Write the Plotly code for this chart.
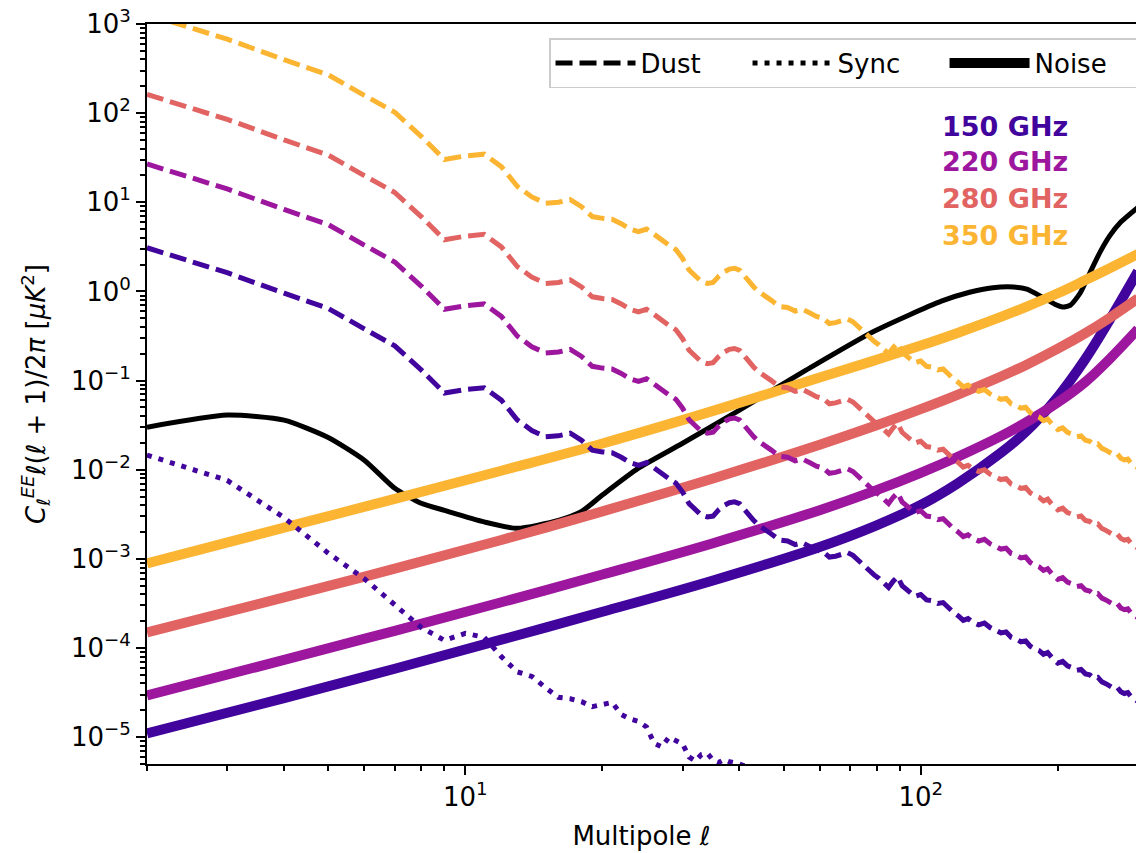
import numpy as np
import plotly.graph_objects as go

FONT = "DejaVu Sans"

# ---------------- data ----------------
bands = ["150 GHz", "220 GHz", "280 GHz", "350 GHz"]
band_colors = ["#41049d", "#9c179e", "#e16462", "#fbb532"]
label_y = [0.861, 0.814, 0.764, 0.714]

# instrumental noise curves (thick solid)
noise_ell = [2, 4, 7, 12, 20, 35, 60, 80, 100, 120, 150, 170, 200, 230, 260, 300]
noise_150 = [1.1e-5, 2.74e-5, 5.86e-5, 1.24e-4, 2.55e-4, 5.73e-4, 1.36e-3, 2.38e-3,
             4.02e-3, 6.93e-3, 0.0155, 0.0265, 0.0658, 0.175, 0.479, 1.68]
noise_220 = [2.94e-5, 7.35e-5, 1.56e-4, 3.26e-4, 6.67e-4, 1.50e-3, 3.52e-3, 5.90e-3,
             9.23e-3, 0.0138, 0.0238, 0.0338, 0.0569, 0.0968, 0.175, 0.378]
noise_280 = [1.5e-4, 3.69e-4, 7.76e-4, 1.63e-3, 3.41e-3, 7.98e-3, 0.0191, 0.0315,
             0.0478, 0.0687, 0.111, 0.149, 0.228, 0.341, 0.506, 0.834]
noise_350 = [8.9e-4, 2.24e-3, 4.71e-3, 9.75e-3, 0.0197, 0.0457, 0.108, 0.171,
             0.247, 0.340, 0.518, 0.667, 0.953, 1.34, 1.82, 2.64]

# CMB EE (thin black)
cmb_ell = [2, 3, 4, 5, 6, 7, 8, 9, 11, 13, 16, 18, 20, 24, 30, 40, 56, 79, 111,
           128, 144, 160, 171, 186, 197, 205, 213, 224, 235, 248, 260, 275, 300]
cmb_ee = [0.030, 0.041, 0.036, 0.023, 0.0128, 0.0062, 0.0042, 0.0035, 0.0026, 0.0022,
          0.0027, 0.0034, 0.0052, 0.0104, 0.0198, 0.0466, 0.131, 0.358, 0.778,
          0.98, 1.10, 1.12, 1.06, 0.85, 0.72, 0.67, 0.70, 0.96, 1.6, 2.8, 4.2, 6.0, 8.8]

# synchrotron at 150 GHz (dotted)
sync_ell = [2, 3, 4, 5, 6, 7, 8, 9, 10, 11, 12, 13, 14, 15, 16, 17, 18, 19, 20, 21, 22,
            23, 24, 25, 26, 27, 28, 29, 30, 31, 32, 33, 34, 35, 36, 37, 38, 40, 42, 45, 50]
sync_150 = [0.0146, 7.6e-3, 2.9e-3, 1.16e-3, 6.0e-4, 3.0e-4, 1.7e-4, 1.22e-4, 1.46e-4,
            1.32e-4, 8.0e-5, 5.4e-5, 4.8e-5, 3.6e-5, 2.8e-5, 2.7e-5, 2.5e-5, 2.2e-5,
            2.3e-5, 2.45e-5, 1.8e-5, 1.6e-5, 1.5e-5, 1.3e-5, 8.5e-6, 7.8e-6, 1.0e-5,
            9.0e-6, 8.4e-6, 6.0e-6, 5.4e-6, 6.4e-6, 6.6e-6, 5.5e-6, 5.2e-6, 5.6e-6,
            5.3e-6, 5.0e-6, 4.6e-6, 4.0e-6, 3.0e-6]

# dust (dashed), stored as log10 of D_ell [uK^2]
dust_ell = [2, 3, 4, 5, 6, 7, 8, 9, 10, 11, 12, 13, 14, 15, 16, 17, 18, 19, 20, 21, 22,
            23, 24, 25, 26, 27, 28, 29, 30, 31, 32, 33, 34, 35, 36, 37, 38, 39, 40, 41,
            42, 43, 44, 45,
            47, 49, 51, 53, 55, 57, 59, 61, 63, 65, 67, 69, 71, 73, 75, 77, 79, 81, 83,
            85, 87, 89, 91, 94, 97,
            100, 103, 106, 109, 112, 115, 118, 121, 124, 127, 130, 134, 138, 142, 146,
            150, 154, 158, 162, 166, 170, 174, 178, 182, 186, 190, 195, 200, 205, 210,
            215, 220, 225, 230, 235, 240, 245, 250, 255, 260, 265, 270, 275, 280, 285,
            290, 295, 300]
dust_log_150 = [0.49, 0.21, -0.02, -0.19, -0.42, -0.61, -0.88, -1.14, -1.10, -1.08, -1.22,
                -1.44, -1.56, -1.63, -1.62, -1.59, -1.67, -1.78, -1.80, -1.81, -1.86, -1.92,
                -1.95, -1.92, -1.98, -2.05, -2.10, -2.15, -2.25, -2.38, -2.45, -2.51, -2.53,
                -2.52, -2.45, -2.40, -2.37, -2.36, -2.38, -2.45, -2.52, -2.57, -2.62, -2.66,
                -2.72, -2.79, -2.80, -2.84, -2.82, -2.86, -2.90, -2.92, -2.98, -2.97, -2.95,
                -2.93, -2.96, -3.02, -3.07, -3.13, -3.18, -3.22, -3.27, -3.32, -3.25, -3.20,
                -3.30, -3.36, -3.42,
                -3.40, -3.46, -3.47, -3.50, -3.49, -3.55, -3.60, -3.64, -3.69, -3.67, -3.71,
                -3.74, -3.72, -3.77, -3.80, -3.83, -3.82, -3.88, -3.90, -3.93, -3.92, -3.98,
                -4.01, -4.03, -4.07, -4.05, -4.12, -4.17, -4.15, -4.20, -4.22, -4.25, -4.24,
                -4.29, -4.30, -4.34, -4.33, -4.38, -4.40, -4.42, -4.45, -4.44, -4.49, -4.51,
                -4.50, -4.55, -4.57, -4.60]
dust_log_220 = [1.43, 1.15, 0.92, 0.75, 0.52, 0.33, 0.06, -0.20, -0.16, -0.14, -0.28,
                -0.50, -0.62, -0.69, -0.68, -0.65, -0.73, -0.84, -0.86, -0.87, -0.92, -0.98,
                -1.01, -0.98, -1.04, -1.11, -1.16, -1.21, -1.31, -1.44, -1.51, -1.57, -1.59,
                -1.58, -1.51, -1.46, -1.43, -1.42, -1.44, -1.51, -1.58, -1.63, -1.68, -1.72,
                -1.78, -1.85, -1.86, -1.90, -1.88, -1.92, -1.96, -1.98, -2.04, -2.03, -2.01,
                -1.99, -2.02, -2.08, -2.13, -2.19, -2.24, -2.28, -2.33, -2.38, -2.31, -2.26,
                -2.36, -2.42, -2.48,
                -2.46, -2.52, -2.53, -2.56, -2.55, -2.61, -2.66, -2.70, -2.75, -2.73, -2.77,
                -2.80, -2.78, -2.83, -2.86, -2.89, -2.88, -2.94, -2.96, -2.99, -2.98, -3.04,
                -3.07, -3.09, -3.13, -3.11, -3.18, -3.23, -3.21, -3.26, -3.28, -3.31, -3.30,
                -3.35, -3.36, -3.40, -3.39, -3.44, -3.46, -3.48, -3.51, -3.50, -3.55, -3.57,
                -3.56, -3.61, -3.63, -3.66]
dust_log_280 = [2.21, 1.93, 1.70, 1.53, 1.30, 1.11, 0.84, 0.58, 0.62, 0.64, 0.50,
                0.28, 0.16, 0.09, 0.10, 0.13, 0.05, -0.06, -0.08, -0.09, -0.14, -0.20,
                -0.23, -0.20, -0.26, -0.33, -0.38, -0.43, -0.53, -0.66, -0.73, -0.79, -0.81,
                -0.80, -0.73, -0.68, -0.65, -0.64, -0.66, -0.73, -0.80, -0.85, -0.90, -0.94,
                -1.00, -1.07, -1.08, -1.12, -1.10, -1.14, -1.18, -1.20, -1.26, -1.25, -1.23,
                -1.21, -1.24, -1.30, -1.35, -1.41, -1.46, -1.50, -1.55, -1.60, -1.53, -1.48,
                -1.58, -1.64, -1.70,
                -1.68, -1.74, -1.75, -1.78, -1.77, -1.83, -1.88, -1.92, -1.97, -1.95, -1.99,
                -2.02, -2.00, -2.05, -2.08, -2.11, -2.10, -2.16, -2.18, -2.21, -2.20, -2.26,
                -2.29, -2.31, -2.35, -2.33, -2.40, -2.45, -2.43, -2.48, -2.50, -2.53, -2.52,
                -2.57, -2.58, -2.62, -2.61, -2.66, -2.68, -2.70, -2.73, -2.72, -2.77, -2.79,
                -2.78, -2.83, -2.85, -2.88]
dust_log_350 = [3.11, 2.83, 2.60, 2.43, 2.20, 2.01, 1.74, 1.48, 1.52, 1.54, 1.40,
                1.18, 1.06, 0.99, 1.00, 1.03, 0.95, 0.84, 0.82, 0.81, 0.76, 0.70,
                0.67, 0.70, 0.64, 0.57, 0.52, 0.47, 0.37, 0.24, 0.17, 0.11, 0.09,
                0.10, 0.17, 0.22, 0.25, 0.26, 0.24, 0.17, 0.10, 0.05, 0.00, -0.04,
                -0.10, -0.17, -0.18, -0.22, -0.20, -0.24, -0.28, -0.30, -0.36, -0.35, -0.33,
                -0.31, -0.34, -0.40, -0.45, -0.51, -0.56, -0.60, -0.65, -0.70, -0.63, -0.58,
                -0.68, -0.74, -0.80,
                -0.78, -0.84, -0.85, -0.88, -0.87, -0.93, -0.98, -1.02, -1.07, -1.05, -1.09,
                -1.12, -1.10, -1.15, -1.18, -1.21, -1.20, -1.26, -1.28, -1.31, -1.30, -1.36,
                -1.39, -1.41, -1.45, -1.43, -1.50, -1.55, -1.53, -1.58, -1.60, -1.63, -1.62,
                -1.67, -1.68, -1.72, -1.71, -1.76, -1.78, -1.80, -1.83, -1.82, -1.87, -1.89,
                -1.88, -1.93, -1.95, -1.98]

# axis ticks
y_tickvals = [1e-5, 1e-4, 1e-3, 1e-2, 1e-1, 1e0, 1e1, 1e2, 1e3]
y_ticktext = ["10<sup>\u22125</sup>", "10<sup>\u22124</sup>", "10<sup>\u22123</sup>",
              "10<sup>\u22122</sup>", "10<sup>\u22121</sup>", "10<sup>0</sup>",
              "10<sup>1</sup>", "10<sup>2</sup>", "10<sup>3</sup>"]
x_tickvals = [10, 100]
x_ticktext = ["10<sup>1</sup>", "10<sup>2</sup>"]
x_minor = [2, 3, 4, 5, 6, 7, 8, 9, 20, 30, 40, 50, 60, 70, 80, 90, 200, 300]
y_minor_mant = [2, 3, 4, 5, 6, 7, 8, 9]
y_minor_exp = [-6, -5, -4, -3, -2, -1, 0, 1, 2]

# ---------------- figure ----------------
noise_sets = [noise_150, noise_220, noise_280, noise_350]
dust_sets = [dust_log_150, dust_log_220, dust_log_280, dust_log_350]
DUST_DASH = "17px,7px"
SYNC_DASH = "5px,7px"

fig = go.Figure()

# CMB EE
fig.add_trace(go.Scatter(x=cmb_ell, y=cmb_ee, mode="lines",
                         line=dict(color="black", width=5, shape="spline", smoothing=0.6),
                         showlegend=False, hoverinfo="skip"))

# noise curves
for name, col, vals in zip(bands, band_colors, noise_sets):
    fig.add_trace(go.Scatter(x=noise_ell, y=vals, mode="lines",
                             line=dict(color=col, width=10, shape="spline", smoothing=1.0),
                             showlegend=False, name=name + " noise"))

# dust curves
for name, col, vals in zip(bands, band_colors, dust_sets):
    fig.add_trace(go.Scatter(x=dust_ell, y=np.power(10.0, np.array(vals)), mode="lines",
                             line=dict(color=col, width=5, dash=DUST_DASH),
                             showlegend=False, name=name + " dust"))

# synchrotron
fig.add_trace(go.Scatter(x=sync_ell, y=sync_150, mode="lines",
                         line=dict(color=band_colors[0], width=5, dash=SYNC_DASH),
                         showlegend=False, name="sync"))

# legend-only entries
fig.add_trace(go.Scatter(x=[None], y=[None], mode="lines", name="Dust",
                         line=dict(color="black", width=5, dash=DUST_DASH)))
fig.add_trace(go.Scatter(x=[None], y=[None], mode="lines", name="Sync",
                         line=dict(color="black", width=5, dash=SYNC_DASH)))
fig.add_trace(go.Scatter(x=[None], y=[None], mode="lines", name="Noise",
                         line=dict(color="black", width=10)))

for name, col, yy in zip(bands, band_colors, label_y):
    fig.add_annotation(x=0.933, y=yy, xref="paper", yref="paper", text="<b>" + name + "</b>",
                       showarrow=False, xanchor="right", yanchor="middle",
                       font=dict(family=FONT, size=27, color=col))

y_minor_vals = [m * 10.0 ** e for e in y_minor_exp for m in y_minor_mant]

fig.update_layout(
    width=1136, height=853,
    margin=dict(l=147, r=0, t=24, b=89, autoexpand=False),
    paper_bgcolor="white", plot_bgcolor="white",
    font=dict(family=FONT, size=26, color="black"),
    showlegend=True,
    legend=dict(orientation="h", x=0.4065, xanchor="left", y=0.981, yanchor="top",
                bgcolor="white", bordercolor="#cccccc", borderwidth=1.5,
                font=dict(family=FONT, size=26, color="black"),
                itemwidth=80, entrywidth=102, entrywidthmode="pixels"),
    xaxis=dict(type="log", range=[np.log10(2), np.log10(297)],
               tickvals=x_tickvals, ticktext=x_ticktext,
               ticks="outside", ticklen=9, tickwidth=2, tickcolor="black",
               showline=True, linewidth=2, linecolor="black", mirror=True,
               showgrid=False, zeroline=False,
               tickfont=dict(family=FONT, size=26, color="black"),
               minor=dict(tickvals=x_minor, ticks="outside", ticklen=5, tickwidth=1.5,
                          tickcolor="black", showgrid=False),
               title=dict(text="Multipole <i>\u2113</i>",
                          font=dict(family=FONT, size=26, color="black"), standoff=16)),
    yaxis=dict(type="log", range=[np.log10(5e-6), 3],
               tickvals=y_tickvals, ticktext=y_ticktext,
               ticks="outside", ticklen=9, tickwidth=2, tickcolor="black",
               showline=True, linewidth=2, linecolor="black", mirror=False,
               showgrid=False, zeroline=False,
               tickfont=dict(family=FONT, size=26, color="black"),
               minor=dict(tickvals=y_minor_vals, ticks="outside", ticklen=5, tickwidth=1.5,
                          tickcolor="black", showgrid=False),
               title=dict(text="<i>C</i><sub><i>\u2113</i></sub><sup><i>EE</i></sup>"
                               "<i>\u2113</i>(<i>\u2113</i> + 1)/2<i>\u03c0</i> "
                               "[<i>\u03bcK</i><sup>2</sup>]",
                          font=dict(family=FONT, size=26, color="black"), standoff=18)),
)

fig.write_html("out.html")
